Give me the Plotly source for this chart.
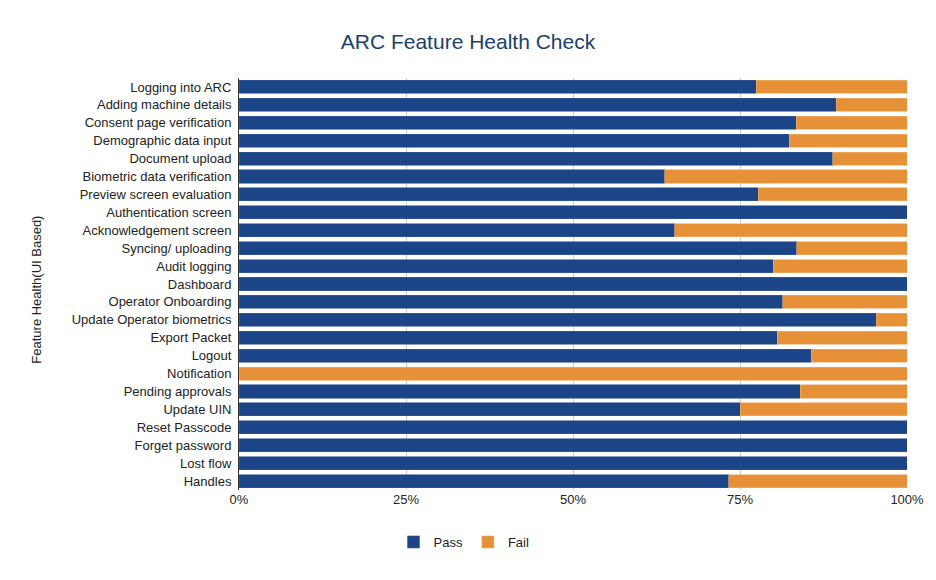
import plotly.graph_objects as go

features = [
    "Logging into ARC", "Adding machine details", "Consent page verification",
    "Demographic data input", "Document upload", "Biometric data verification",
    "Preview screen evaluation", "Authentication screen", "Acknowledgement screen",
    "Syncing/ uploading", "Audit logging", "Dashboard", "Operator Onboarding",
    "Update Operator biometrics", "Export Packet", "Logout", "Notification",
    "Pending approvals", "Update UIN", "Reset Passcode", "Forget password",
    "Lost flow", "Handles",
]
pass_share = [77.4, 89.4, 83.4, 82.4, 88.9, 63.7, 77.7, 100, 65.2, 83.5, 80.0, 100,
              81.4, 95.4, 80.6, 85.7, 0, 84.0, 75.0, 100, 100, 100, 73.3]
fail_share = [round(100 - p, 1) for p in pass_share]

x_ticks = [0, 25, 50, 75, 100]
x_tick_labels = ["0%", "25%", "50%", "75%", "100%"]

PASS_C = "#1c4587"
FAIL_C = "#e69138"

fig = go.Figure()
fig.add_trace(go.Bar(y=features, x=pass_share, name="Pass", orientation="h",
                     marker=dict(color=PASS_C, line=dict(color="#3d5f99", width=0.6))))
fig.add_trace(go.Bar(y=features, x=fail_share, name="Fail", orientation="h",
                     marker=dict(color=FAIL_C, line=dict(color="#f0b071", width=0.6))))

W, H = 936, 580
fig.update_layout(
    barmode="stack",
    bargap=0.27,
    width=W, height=H,
    margin=dict(l=231, r=37, t=70, b=98),
    paper_bgcolor="white", plot_bgcolor="white",
    font=dict(family="Liberation Sans, Arial, sans-serif", size=13, color="#222222"),
    title=dict(text="ARC Feature Health Check", x=(468 - 8) / W, xref="container", xanchor="center",
               y=1 - 34 / H, yref="container", yanchor="middle",
               font=dict(size=21, color="#1b3f6c", family="Liberation Sans, Arial, sans-serif")),
    legend=dict(orientation="h", xref="container", x=(464 - 8) / W, xanchor="center",
                yref="container", y=1 - 534 / H, yanchor="middle",
                font=dict(size=13, color="#222222"), itemwidth=30, traceorder="normal"),
    showlegend=True,
)
fig.update_xaxes(range=[0, 100], tickvals=x_ticks, ticktext=x_tick_labels,
                 showgrid=True, gridcolor="#cccccc", gridwidth=1,
                 zeroline=False, showline=False, ticks="", fixedrange=True)
fig.update_yaxes(autorange="reversed", showgrid=False, ticks="", ticklabelstandoff=4,
                 showline=True, linecolor="#333333", linewidth=1, zeroline=False)
fig.add_annotation(text="Feature Health(UI Based)", textangle=-90,
                   xref="paper", yref="paper", x=(19 - 231) / 668, y=0.485,
                   showarrow=False, font=dict(size=13, color="#222222"))

fig.write_html("out.html")
